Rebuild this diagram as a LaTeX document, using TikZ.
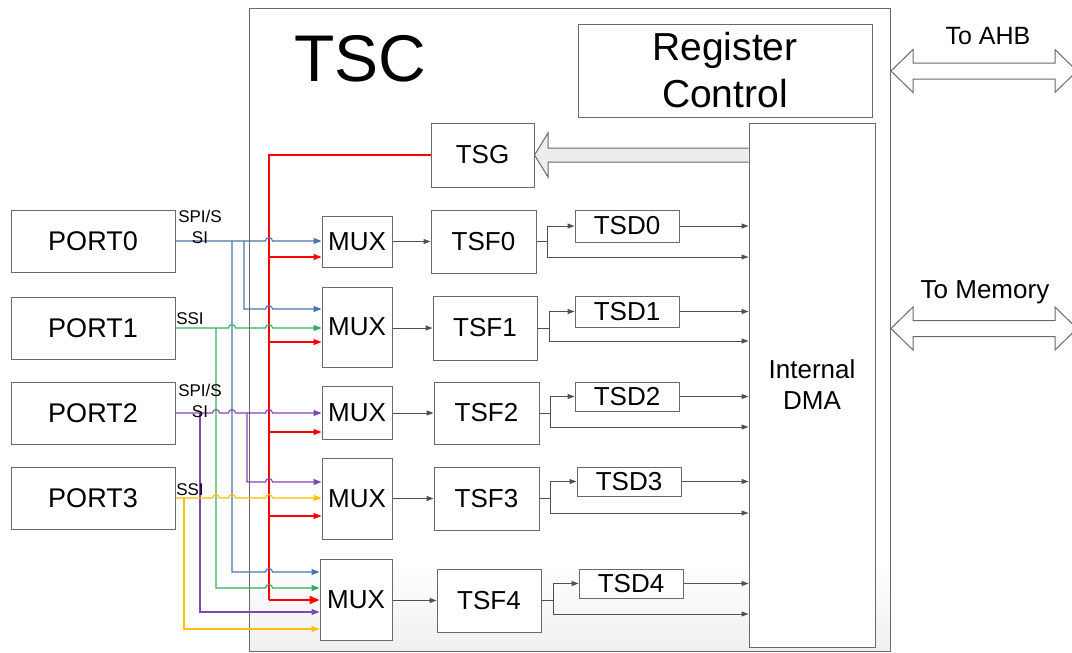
\documentclass[tikz,border=0pt]{standalone}
\usepackage{fontspec}
\setmainfont{Liberation Sans}
\usetikzlibrary{arrows.meta,calc}
\definecolor{bordc}{HTML}{6A6A6A}
\definecolor{lnc}{HTML}{505050}
\definecolor{cblue}{HTML}{4A76B0}
\definecolor{cgreen}{HTML}{2EB062}
\definecolor{cpurple}{HTML}{7F46B5}
\definecolor{cyellow}{HTML}{FFC000}
\definecolor{cred}{HTML}{FF0000}
\definecolor{arrfill}{HTML}{EDEDED}
\newcommand{\jp}[2]{-- ({#1-3.5},#2) .. controls ({#1-3.5},{#2-4.5}) and ({#1+3.5},{#2-4.5}) .. ({#1+3.5},#2)}
\begin{document}
\begin{tikzpicture}[x=1pt,y=-1pt,
  blk/.style={draw=bordc,line width=1pt,fill=white,inner sep=0pt,font=\fontsize{26}{31}\selectfont},
  gl/.style={draw=lnc,line width=1pt,-{Triangle[length=7pt,width=5pt]}},
  wire/.style={line width=1.1pt,-{Triangle[length=8pt,width=6pt]}},
  wb/.style={wire,draw=cblue},
  wg/.style={wire,draw=cgreen},
  wp/.style={wire,draw=cpurple},
  wy/.style={wire,draw=cyellow},
  wr/.style={wire,draw=cred},
  wrl/.style={draw=cred,line width=1.1pt},
  lbl/.style={font=\fontsize{17}{21}\selectfont,inner sep=0pt,align=center},
  bigarr/.style={draw=bordc,line width=1pt,line join=miter}
]
\useasboundingbox (0,0) rectangle (1072,653);
\clip (0,0) rectangle (1072,653);
\fill[white] (0,0) rectangle (1072,653);

% TSC container
\fill[white] (249,8) rectangle (890,651);
\shade[top color=white,bottom color=black!6] (249.5,560) rectangle (889.5,650.5);
\node[draw=bordc,line width=1pt,minimum width=641pt,minimum height=643pt,inner sep=0pt] (tsc) at (569.5,329.5) {};
\node[font=\fontsize{66}{70}\selectfont,inner sep=0pt] (tsclbl) at (360,59) {TSC};

% Register / DMA
\node[blk,minimum width=294pt,minimum height=93pt,align=center,font=\fontsize{39}{47}\selectfont] (reg) at (725,70.5) {Register\\Control};
\node[blk,minimum width=126pt,minimum height=524pt,align=center] (dma) at (812,385) {Internal\\DMA};

% external double arrows
\path[bigarr,fill=white] (891,71) -- (913,49.5) -- (913,63) -- (1055,63) -- (1055,49.5) -- (1077,71) -- (1055,92.5) -- (1055,79) -- (913,79) -- (913,92.5) -- cycle;
\node[font=\fontsize{25}{30}\selectfont,anchor=base,inner sep=0pt] (ahb) at (988,44) {To AHB};
\path[bigarr,fill=white] (891,328.5) -- (913,307) -- (913,320.5) -- (1055,320.5) -- (1055,307) -- (1077,328.5) -- (1055,350) -- (1055,336.5) -- (913,336.5) -- (913,350) -- cycle;
\node[font=\fontsize{26}{31}\selectfont,anchor=base,inner sep=0pt] (mem) at (985,298) {To Memory};

% TSG and block arrow
\node[blk,minimum width=103pt,minimum height=64pt] (tsg) at (482.5,155) {TSG};
\path[fill=arrfill] (dma.west |- 0,148) -- (548,148) -- (548,133) -- (tsg.east) -- (548,177) -- (548,162) -- (dma.west |- 0,162) -- cycle;
\draw[bigarr] (dma.west |- 0,148) -- (548,148) -- (548,133) -- (tsg.east) -- (548,177) -- (548,162) -- (dma.west |- 0,162);

% PORTs
\node[blk,minimum width=164pt,minimum height=62pt,font=\fontsize{27}{32}\selectfont] (p0) at (93,241) {PORT0};
\node[blk,minimum width=164pt,minimum height=62pt,font=\fontsize{27}{32}\selectfont] (p1) at (93,328) {PORT1};
\node[blk,minimum width=164pt,minimum height=62pt,font=\fontsize{27}{32}\selectfont] (p2) at (93,413.5) {PORT2};
\node[blk,minimum width=164pt,minimum height=62pt,font=\fontsize{27}{32}\selectfont] (p3) at (93,498.5) {PORT3};

% MUXes
\node[blk,minimum width=70pt,minimum height=51pt] (m0) at (357,241.5) {MUX};
\node[blk,minimum width=70pt,minimum height=80pt] (m1) at (357,327) {MUX};
\node[blk,minimum width=70pt,minimum height=53pt] (m2) at (357,412.5) {MUX};
\node[blk,minimum width=70pt,minimum height=81pt] (m3) at (357,498.5) {MUX};
\node[blk,minimum width=72pt,minimum height=81pt] (m4) at (356,599.5) {MUX};

% TSF / TSD
\node[blk,minimum width=105pt,minimum height=63pt] (f0) at (483.5,241.5) {TSF0};
\node[blk,minimum width=104pt,minimum height=64pt] (f1) at (485,328) {TSF1};
\node[blk,minimum width=105pt,minimum height=62pt] (f2) at (486.5,413) {TSF2};
\node[blk,minimum width=105pt,minimum height=63pt] (f3) at (486.5,498.5) {TSF3};
\node[blk,minimum width=104pt,minimum height=63pt] (f4) at (489,600.5) {TSF4};

\node[blk,minimum width=104pt,minimum height=32pt] (d0) at (627,226) {TSD0};
\node[blk,minimum width=104pt,minimum height=31pt] (d1) at (627,311.5) {TSD1};
\node[blk,minimum width=104pt,minimum height=29pt] (d2) at (627,396.5) {TSD2};
\node[blk,minimum width=104pt,minimum height=29pt] (d3) at (629,481.5) {TSD3};
\node[blk,minimum width=104pt,minimum height=29pt] (d4) at (631,583.5) {TSD4};

% MUX -> TSF
\foreach \i in {0,...,4}{
  \draw[gl] (m\i.east |- f\i.west) -- (f\i.west);
}
% TSF -> TSD / DMA
\draw[gl] (f0.east) -- (547,241.5) coordinate (s0) |- (d0.west);
\draw[gl] (s0) |- (dma.west |- 0,257);
\draw[gl] (f1.east) -- (549,328) coordinate (s1) |- (d1.west);
\draw[gl] (s1) |- (dma.west |- 0,341);
\draw[gl] (f2.east) -- (550,413) coordinate (s2) |- (d2.west);
\draw[gl] (s2) |- (dma.west |- 0,427);
\draw[gl] (f3.east) -- (550,498.5) coordinate (s3) |- (d3.west);
\draw[gl] (s3) |- (dma.west |- 0,513);
\draw[gl] (f4.east) -- (553,600.5) coordinate (s4) |- (d4.west);
\draw[gl] (s4) |- (dma.west |- 0,614);
\foreach \i in {0,...,4}{
  \draw[gl] (d\i.east) -- (d\i.east -| dma.west);
}

% red (TSG) distribution
\draw[wrl] (tsg.west) -- (269,155) -- (269,600);
\draw[wr] (269,257) -- (m0.west |- 0,257);
\draw[wr] (269,342) -- (m1.west |- 0,342);
\draw[wr] (269,432) -- (m2.west |- 0,432);
\draw[wr] (269,516) -- (m3.west |- 0,516);
\draw[draw=cred,line width=1.8pt,-{Triangle[length=10pt,width=8pt]}] (269,600) -- (m4.west |- 0,600);

% blue (PORT0)
\draw[wb] (p0.east) \jp{269}{241} -- (m0.west |- 0,241);
\draw[wb] (244,241) -- (244,309) \jp{269}{309} -- (m1.west |- 0,309);
\draw[wb] (232,241) -- (232,572) \jp{269}{572} -- (m4.west |- 0,572);

% green (PORT1)
\draw[wg] (p1.east) \jp{232}{328} \jp{269}{328} -- (m1.west |- 0,328);
\draw[wg] (216,328) -- (216,588) \jp{269}{588} -- (m4.west |- 0,588);

% purple (PORT2)
\draw[wp] (p2.east |- 0,413) \jp{216}{413} \jp{232}{413} \jp{269}{413} -- (m2.west |- 0,413);
\draw[wp] (247,413) -- (247,482) \jp{269}{482} -- (m3.west |- 0,482);
\draw[wp] (200,413) -- (200,612) -- (m4.west |- 0,612);

% yellow (PORT3)
\draw[wy] (p3.east |- 0,498) \jp{216}{498} \jp{232}{498} \jp{269}{498} -- (m3.west |- 0,498);
\draw[wy] (184,498) -- (184,629) -- (m4.west |- 0,629);

% interface labels
\node[lbl] (l0) at (200,227) {SPI/S\\SI};
\node[lbl] (l1) at (190,319) {SSI};
\node[lbl] (l2) at (200,401) {SPI/S\\SI};
\node[lbl] (l3) at (190,490) {SSI};
\end{tikzpicture}
\end{document}
